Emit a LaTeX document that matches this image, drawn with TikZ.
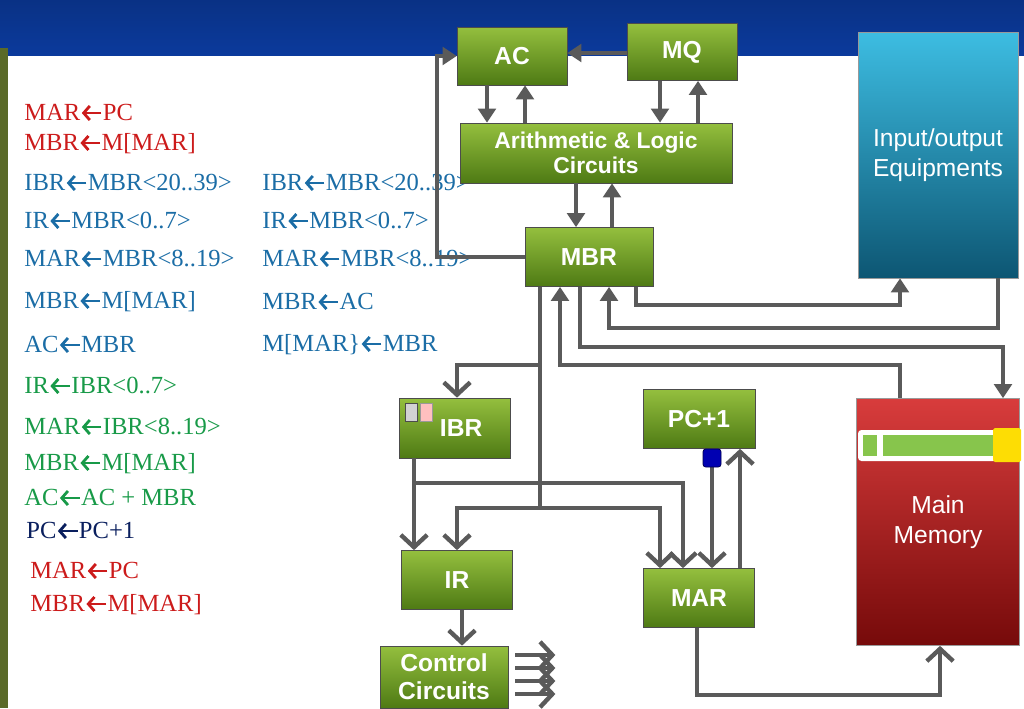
\documentclass[tikz,border=0pt]{standalone}
\usepackage{amsmath}
\usepackage{fontspec}
\setmainfont{Liberation Serif}
\newfontfamily\boxfont{Liberation Sans}
\usetikzlibrary{arrows.meta, positioning}
\definecolor{hdrblue}{HTML}{0B3A9C}
\definecolor{barolive}{HTML}{5A6A28}
\definecolor{boxtop}{HTML}{94BF3E}
\definecolor{boxbot}{HTML}{4E7A14}
\definecolor{iotop}{HTML}{3DBDE2}
\definecolor{iobot}{HTML}{0D5673}
\definecolor{memtop}{HTML}{D83C3C}
\definecolor{membot}{HTML}{760A0A}
\definecolor{wiregray}{HTML}{5A5A5A}
\definecolor{txtred}{HTML}{CC1B1B}
\definecolor{txtblue}{HTML}{1B6DA6}
\definecolor{txtgreen}{HTML}{189A48}
\definecolor{txtnavy}{HTML}{0A1F5E}
\newcommand{\getsarrow}{\raisebox{0.1ex}{\tikz[baseline=-0.6ex]\draw[line width=1.6pt, -{Straight Barb[length=3.5pt,width=8pt]}] (0.85em,0) -- (0.05em,0);}}
\tikzstyle{box} = [draw=black!70, top color=boxtop, bottom color=boxbot, text=white,
                   font=\boxfont\bfseries\fontsize{14}{16}\selectfont, align=center, inner sep=1pt]
\tikzstyle{unit} = [draw=black!40, text=white, font=\boxfont\fontsize{14}{17}\selectfont, align=center]
\tikzstyle{wire} = [draw=wiregray, line width=2.5pt, -{Triangle[length=8pt,width=10pt]}]
\tikzstyle{wirev} = [draw=wiregray, line width=2.5pt, -{Straight Barb[length=7pt,width=15pt]}]
\tikzstyle{line} = [draw=wiregray, line width=2.5pt]
\tikzstyle{instr} = [anchor=west, inner sep=0, font=\fontsize{14}{16}\selectfont]

\begin{document}
\begin{tikzpicture}[x=0.02cm, y=-0.02cm]
				\useasboundingbox (0,0) rectangle (1024,708);
				\shade [top color=hdrblue!85!black, bottom color=hdrblue] (0,0) rectangle (1024,55);
				\fill [barolive] (0,48) rectangle (8,708);

				% register transfers
				\node (t1) [instr, text=txtred] at (24,113) {MAR\getsarrow PC};
				\node (t2) [instr, text=txtred] at (24,144) {MBR\getsarrow M[MAR]};
				\node (t3) [instr, text=txtblue] at (24,183) {IBR\getsarrow MBR<20..39>};
				\node (t4) [instr, text=txtblue] at (24,221) {IR\getsarrow MBR<0..7>};
				\node (t5) [instr, text=txtblue] at (24,259) {MAR\getsarrow MBR<8..19>};
				\node (t6) [instr, text=txtblue] at (24,302) {MBR\getsarrow M[MAR]};
				\node (t7) [instr, text=txtblue] at (24,345) {AC\getsarrow MBR};
				\node (u3) [instr, text=txtblue] at (262,183) {IBR\getsarrow MBR<20..39>};
				\node (u4) [instr, text=txtblue] at (262,221) {IR\getsarrow MBR<0..7>};
				\node (u5) [instr, text=txtblue] at (262,259) {MAR\getsarrow MBR<8..19>};
				\node (u6) [instr, text=txtblue] at (262,302) {MBR\getsarrow AC};
				\node (u7) [instr, text=txtblue] at (262,345) {M[MAR\}\getsarrow MBR};
				\node (t8) [instr, text=txtgreen] at (24,386) {IR\getsarrow IBR<0..7>};
				\node (t9) [instr, text=txtgreen] at (24,427) {MAR\getsarrow IBR<8..19>};
				\node (t10) [instr, text=txtgreen] at (24,464) {MBR\getsarrow M[MAR]};
				\node (t11) [instr, text=txtgreen] at (24,498) {AC\getsarrow AC + MBR};
				\node (t12) [instr, text=txtnavy] at (26,531) {PC\getsarrow PC+1};
				\node (t13) [instr, text=txtred] at (30,571) {MAR\getsarrow PC};
				\node (t14) [instr, text=txtred] at (30,605) {MBR\getsarrow M[MAR]};

				% units
				\node (AC) [box, minimum width=2.2cm, minimum height=1.16cm] at (512,56) {AC};
				\node (MQ) [box, minimum width=2.2cm, minimum height=1.14cm] at (682,52) {MQ};
				\node (ALU) [box, font=\boxfont\bfseries\fontsize{13}{14.5}\selectfont, minimum width=5.44cm, minimum height=1.2cm] at (596,153) {Arithmetic \& Logic\\Circuits};
				\node (MBR) [box, minimum width=2.56cm, minimum height=1.18cm] at (589,257) {MBR};
				\node (IO) [unit, top color=iotop, bottom color=iobot, minimum width=3.2cm, minimum height=4.92cm] at (938,155) {Input/output\\Equipments};
				\node (Mem) [unit, top color=memtop, bottom color=membot, minimum width=3.26cm, minimum height=4.94cm] at (938,522) {Main\\Memory};
				\node (IBR) [box, minimum width=2.22cm, minimum height=1.2cm] at (455,428) {\hspace{0.5em}IBR};
				\node (PC) [box, minimum width=2.24cm, minimum height=1.18cm] at (699,419) {PC+1};
				\node (IR) [box, minimum width=2.22cm, minimum height=1.18cm] at (457,580) {IR};
				\node (MAR) [box, minimum width=2.22cm, minimum height=1.18cm] at (699,598) {MAR};
				\node (Ctrl) [box, minimum width=2.56cm, minimum height=1.24cm] at (444,677) {Control\\Circuits};

				% memory word and IBR halves
				\fill [white, rounded corners=2pt] (858,430) rectangle (1018,461);
				\fill [green!35!olive!70] (863,435) rectangle (877,456);
				\fill [green!35!olive!70] (883,435) rectangle (994,456);
				\fill [yellow!80!orange, rounded corners=1pt] (993,428) rectangle (1021,462);
				\filldraw [fill=gray!35, draw=black!70] (405,403) rectangle (417,421);
				\filldraw [fill=red!25, draw=black!40] (420,403) rectangle (432,421);

				% AC, MQ and ALU
				\coordinate (acDown) at (487,0);
				\coordinate (acUp) at (525,0);
				\coordinate (mqDown) at (660,0);
				\coordinate (mqUp) at (698,0);
				\draw [wire] (MQ.west |- 0,53) -- (AC.east |- 0,53);
				\draw [wire] (AC.south -| acDown) -- (ALU.north -| acDown);
				\draw [wire] (ALU.north -| acUp) -- (AC.south -| acUp);
				\draw [wire] (MQ.south -| mqDown) -- (ALU.north -| mqDown);
				\draw [wire] (ALU.north -| mqUp) -- (MQ.south -| mqUp);

				% ALU and MBR
				\coordinate (aluDown) at (576,0);
				\coordinate (aluUp) at (612,0);
				\draw [wire] (ALU.south -| aluDown) -- (MBR.north -| aluDown);
				\draw [wire] (MBR.north -| aluUp) -- (ALU.south -| aluUp);
				\coordinate (loop) at (437,0);
				\draw [wire] (MBR.west) -| (AC.west -| loop) -- (AC.west);

				% MBR and I/O
				\coordinate (toIO) at (636,305);
				\coordinate (toIOx) at (900,0);
				\draw [wire] (MBR.south -| toIO) -- (toIO) -| (IO.south -| toIOx);
				\coordinate (fromIO) at (998,328);
				\coordinate (fromIOx) at (609,0);
				\draw [wire] (IO.south -| fromIO) -- (fromIO) -| (MBR.south -| fromIOx);

				% MBR and memory
				\coordinate (toMem) at (580,347);
				\coordinate (toMemx) at (1003,0);
				\draw [wire] (MBR.south -| toMem) -- (toMem) -| (Mem.north -| toMemx);
				\coordinate (fromMem) at (900,365);
				\coordinate (fromMemx) at (560,0);
				\draw [wire] (Mem.north -| fromMem) -- (fromMem) -| (MBR.south -| fromMemx);

				% MBR to IBR, IR and MAR
				\coordinate (trunk) at (540,508);
				\coordinate (toIBR) at (540,365);
				\coordinate (toIBRx) at (457,0);
				\draw [line] (MBR.south -| trunk) -- (trunk);
				\draw [wirev] (toIBR) -| (IBR.north -| toIBRx);
				\draw [wirev] (trunk) -| (IR.north -| toIBRx);
				\coordinate (toMARa) at (660,0);
				\draw [wirev] (trunk) -| (MAR.north -| toMARa);

				% IBR to IR and MAR
				\coordinate (ibrOut) at (414,0);
				\coordinate (ibrJoin) at (414,483);
				\coordinate (toMARb) at (683,0);
				\draw [wirev] (IBR.south -| ibrOut) -- (IR.north -| ibrOut);
				\draw [wirev] (ibrJoin) -| (MAR.north -| toMARb);

				% PC and MAR
				\coordinate (pcOut) at (712,0);
				\coordinate (pcIn) at (740,0);
				\draw [wirev] (PC.south -| pcOut) -- (MAR.north -| pcOut);
				\draw [wirev] (MAR.north -| pcIn) -- (PC.south -| pcIn);
				\node (pcPort) [fill=blue!70!black, draw=blue!30!black, rounded corners=1.5pt, minimum size=0.36cm, inner sep=0] at (712,458) {};

				% MAR to memory
				\coordinate (marOut) at (697,695);
				\coordinate (memIn) at (940,0);
				\draw [wirev] (MAR.south -| marOut) -- (marOut) -| (Mem.south -| memIn);

				% IR to control
				\coordinate (irOut) at (462,0);
				\draw [wirev] (IR.south -| irOut) -- (Ctrl.north -| irOut);
				\draw [wirev] ([xshift=4pt, yshift=0.44cm]Ctrl.east) -- ++(40,0);
				\draw [wirev] ([xshift=4pt, yshift=0.18cm]Ctrl.east) -- ++(40,0);
				\draw [wirev] ([xshift=4pt, yshift=-0.08cm]Ctrl.east) -- ++(40,0);
				\draw [wirev] ([xshift=4pt, yshift=-0.34cm]Ctrl.east) -- ++(40,0);
			\end{tikzpicture}
\end{document}
